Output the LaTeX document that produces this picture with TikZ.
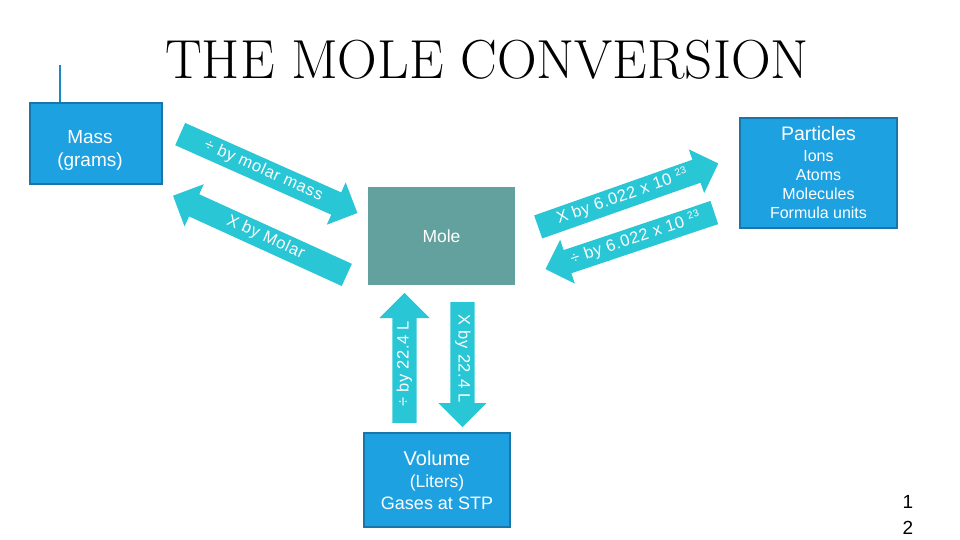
\documentclass[tikz,border=0pt]{standalone}
\usepackage{fontspec}
\setsansfont{Liberation Sans}
\usepackage{xcolor}
\usetikzlibrary{arrows.meta, calc, positioning, shapes.arrows}
\definecolor{boxblue}{RGB}{30,161,225}
\definecolor{boxedge}{RGB}{24,118,170}
\definecolor{molegreen}{RGB}{99,161,158}
\definecolor{arrowcyan}{RGB}{41,198,213}
\tikzset{
    unitbox/.style={rectangle, fill=boxblue, draw=boxedge, line width=1.5pt, align=center,
        text=white, inner sep=0pt},
    boxtext/.style={align=center, text=white, inner sep=0pt},
    molebox/.style={rectangle, fill=molegreen, text=white, inner sep=0pt,
        font=\sffamily\fontsize{17.5}{18}\selectfont},
    bigarrow/.style={single arrow, fill=arrowcyan, text=white,
        font=\sffamily\fontsize{16.5}{16.5}\selectfont\addfontfeatures{LetterSpace=4},
        single arrow head extend=11pt, inner ysep=5pt, inner xsep=4pt, text height=11pt, text depth=3pt},
}
\newcommand{\tenpow}{10 \raisebox{6pt}{\fontsize{10}{10}\selectfont 23}}

\begin{document}
\begin{tikzpicture}[x=1pt, y=-1pt]
        \useasboundingbox (0,0) rectangle (960,540);
        \node[font=\fontsize{55}{60}\selectfont] (title) at (487,60) {THE MOLE CONVERSION};
        % the four quantities
        \node[unitbox, minimum width=132pt, minimum height=81pt] (mass) at (96,143.5) {};
        \node[boxtext, font=\sffamily\fontsize{19}{23}\selectfont] (massLabel) at ($(mass.center)+(-6,7)$) {Mass\\(grams)};
        \node[molebox, minimum width=147pt, minimum height=98pt] (mole) at (441.5,236) {Mole};
        \node[unitbox, minimum width=157pt, minimum height=110pt, font=\sffamily\fontsize{16}{19}\selectfont] (particles) at (818.5,173)
            {{\fontsize{19.5}{20}\selectfont Particles}\\[2pt]Ions\\Atoms\\Molecules\\Formula units};
        \node[unitbox, minimum width=146pt, minimum height=94pt, font=\sffamily\fontsize{17.5}{22}\selectfont] (volume) at (437,480)
            {{\fontsize{20}{22}\selectfont Volume}\\(Liters)\\{\fontsize{18}{22}\selectfont Gases at STP}};
        \coordinate (mark) at (60,65);
        \draw[boxblue!85!black, line width=2.5pt] (mark) -- (mark |- mass.north);
        % conversion arrows
        \node[bigarrow, minimum height=194pt, rotate=-24, anchor=tail] (massToMole) at (180,134) {÷ by molar mass};
        \node[bigarrow, minimum height=191pt, rotate=-24.5, shape border rotate=180, anchor=tail] (moleToMass) at (347,275) {X by Molar};
        \node[bigarrow, minimum height=191pt, rotate=19.4, anchor=tail] (moleToParticles) at (538,227) {X by 6.022 x \tenpow};
        \node[bigarrow, minimum height=178pt, rotate=18.5, shape border rotate=180, anchor=tail] (particlesToMole) at (714.5,212.5) {÷ by 6.022 x \tenpow};
        \node[bigarrow, minimum height=130pt, rotate=90, single arrow head extend=13pt, anchor=tail] (volumeToMole) at (404.5,423) {÷ by 22.4 L};
        \node[bigarrow, minimum height=125pt, rotate=-90, single arrow head extend=12pt, anchor=tail] (moleToVolume) at (462.5,302) {X by 22.4 L};
        \node[font=\sffamily\fontsize{19}{26}\selectfont, align=center] (page) at (908,515) {1\\2};
    \end{tikzpicture}
\end{document}
